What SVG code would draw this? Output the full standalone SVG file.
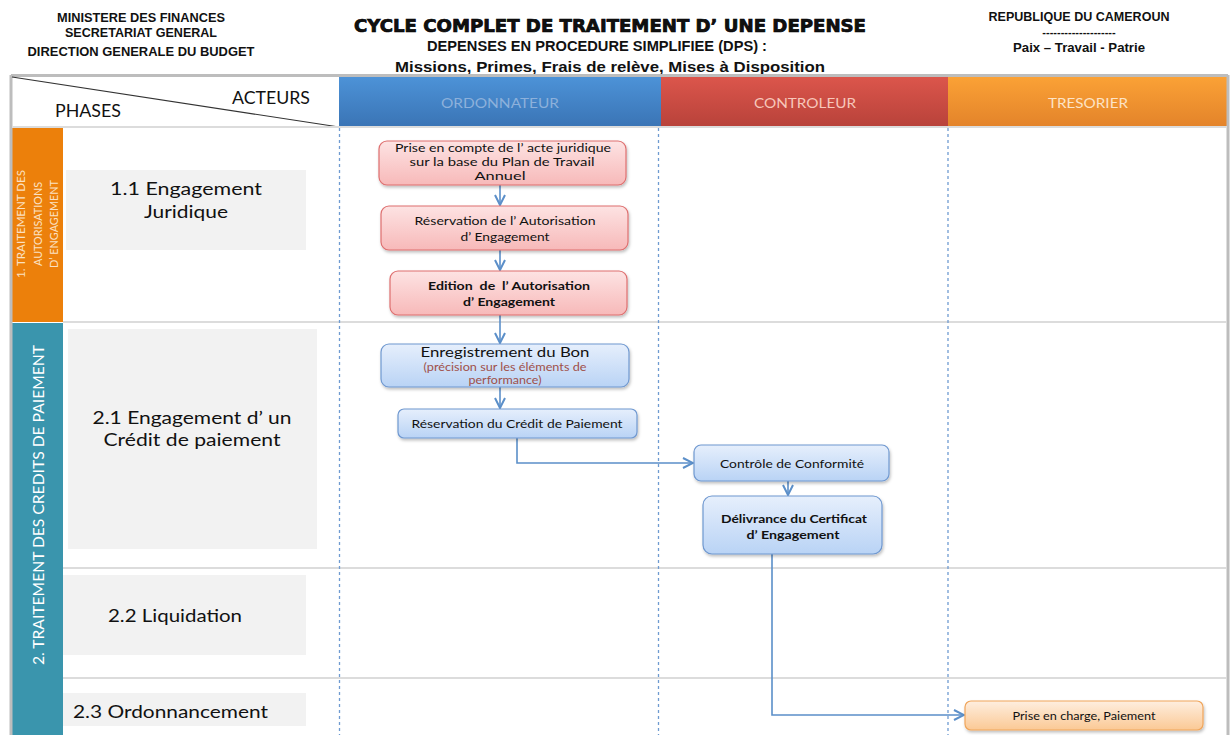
<svg xmlns="http://www.w3.org/2000/svg" width="1231" height="735" viewBox="0 0 1231 735">
<defs>
<style>
.hd{font-family:"Liberation Sans",Arial,sans-serif;font-weight:bold;fill:#111;text-anchor:middle}
.cal{font-family:Lato,"Open Sans","Liberation Sans",sans-serif}
.ph{font-family:Lato,"Open Sans","Liberation Sans",sans-serif;font-size:18px;fill:#111;text-anchor:middle}
.nt{font-family:Lato,"Open Sans","Liberation Sans",sans-serif;font-size:11.5px;fill:#111;text-anchor:middle}
.nb{font-family:Lato,"Open Sans","Liberation Sans",sans-serif;font-size:11.5px;font-weight:bold;fill:#111;text-anchor:middle}
.colh{font-family:Lato,"Open Sans","Liberation Sans",sans-serif;font-size:14px;text-anchor:middle}
.pbox{fill:#f2f2f2}
.sep{stroke:#dcdcdc;stroke-width:2}
.dash{stroke:#6f9bd1;stroke-width:1.3;stroke-dasharray:3,3}
.pink{fill:url(#gPink);stroke:#de6f6f;stroke-width:1.2;filter:url(#sh)}
.blue{fill:url(#gBlue);stroke:#6f98d0;stroke-width:1.2;filter:url(#sh)}
.orng{fill:url(#gOr);stroke:#f0a55a;stroke-width:1.2;filter:url(#sh)}
.con{fill:none;stroke:#5b8fc9;stroke-width:1.6;marker-end:url(#arr)}
</style>
<linearGradient id="gPink" x1="0" y1="0" x2="0" y2="1"><stop offset="0" stop-color="#fde3e3"/><stop offset="1" stop-color="#f7b9b9"/></linearGradient>
<linearGradient id="gBlue" x1="0" y1="0" x2="0" y2="1"><stop offset="0" stop-color="#e6effc"/><stop offset="1" stop-color="#b9d3f5"/></linearGradient>
<linearGradient id="gOr" x1="0" y1="0" x2="0" y2="1"><stop offset="0" stop-color="#feeedf"/><stop offset="1" stop-color="#fbc995"/></linearGradient>
<linearGradient id="hBlue" x1="0" y1="0" x2="0" y2="1"><stop offset="0" stop-color="#4d93d8"/><stop offset="1" stop-color="#3a74b5"/></linearGradient>
<linearGradient id="hRed" x1="0" y1="0" x2="0" y2="1"><stop offset="0" stop-color="#dc564c"/><stop offset="1" stop-color="#b8423a"/></linearGradient>
<linearGradient id="hOr" x1="0" y1="0" x2="0" y2="1"><stop offset="0" stop-color="#fba236"/><stop offset="1" stop-color="#e3832a"/></linearGradient>
<filter id="sh" x="-10%" y="-20%" width="120%" height="150%"><feDropShadow dx="1" dy="2" stdDeviation="1.5" flood-color="#000" flood-opacity="0.25"/></filter>
<marker id="arr" viewBox="0 0 12 12" refX="11" refY="6" markerWidth="12" markerHeight="12" markerUnits="userSpaceOnUse" orient="auto">
<path d="M1,1 L11,6 L1,11" fill="none" stroke="#5b8fc9" stroke-width="2"/>
</marker>
</defs>
<rect width="1231" height="735" fill="#ffffff"/>

<g id="header">
<text class="hd" x="141" y="22" font-size="12.5" textLength="168" lengthAdjust="spacingAndGlyphs">MINISTERE DES FINANCES</text>
<text class="hd" x="141" y="37" font-size="12.5" textLength="152" lengthAdjust="spacingAndGlyphs">SECRETARIAT GENERAL</text>
<text class="hd" x="141" y="56" font-size="12.5" textLength="227" lengthAdjust="spacingAndGlyphs">DIRECTION GENERALE DU BUDGET</text>
<text class="hd" x="610" y="32" font-size="17" textLength="512" lengthAdjust="spacingAndGlyphs" stroke="#000" stroke-width="0.7" style="font-family:'DejaVu Sans','Liberation Sans',sans-serif;font-weight:bold">CYCLE COMPLET DE TRAITEMENT D’ UNE DEPENSE</text>
<text class="hd" x="597" y="51" font-size="14.5" textLength="340" lengthAdjust="spacingAndGlyphs">DEPENSES EN PROCEDURE SIMPLIFIEE (DPS) :</text>
<text class="hd" x="610" y="72" font-size="15" textLength="430" lengthAdjust="spacingAndGlyphs">Missions, Primes, Frais de relève, Mises à Disposition</text>
<text class="hd" x="1079" y="21" font-size="12.5" textLength="181" lengthAdjust="spacingAndGlyphs">REPUBLIQUE DU CAMEROUN</text>
<text class="hd" x="1079" y="36" font-size="11">--------------------</text>
<text class="hd" x="1079" y="52" font-size="12.5" textLength="132" lengthAdjust="spacingAndGlyphs">Paix – Travail - Patrie</text>
</g>

<g id="frame">
<rect x="339" y="76" width="322" height="51" fill="url(#hBlue)"/>
<rect x="661" y="76" width="287" height="51" fill="url(#hRed)"/>
<rect x="948" y="76" width="280" height="51" fill="url(#hOr)"/>
<rect x="12" y="127" width="51" height="195" fill="#ec800b"/>
<rect x="12" y="323" width="51" height="412" fill="#3a95ad"/>
<line x1="11" y1="75.5" x2="1228" y2="75.5" stroke="#bdbdbd" stroke-width="3"/>
<line x1="11" y1="75" x2="11" y2="735" stroke="#bdbdbd" stroke-width="3"/>
<line x1="1228" y1="75" x2="1228" y2="735" stroke="#bdbdbd" stroke-width="3"/>
<line x1="12" y1="77" x2="339" y2="127" stroke="#333" stroke-width="1.2"/>
<line class="sep" x1="12" y1="127" x2="1227" y2="127"/>
<line class="sep" x1="63" y1="322" x2="1227" y2="322"/>
<line class="sep" x1="63" y1="568" x2="1227" y2="568"/>
<line class="sep" x1="63" y1="678" x2="1227" y2="678"/>
<line class="dash" x1="339.5" y1="128" x2="339.5" y2="735"/>
<line class="dash" x1="658.5" y1="128" x2="658.5" y2="735"/>
<line class="dash" x1="948" y1="128" x2="948" y2="735"/>
<text class="cal" x="271" y="104" font-size="17" text-anchor="middle" fill="#111" textLength="78" lengthAdjust="spacingAndGlyphs">ACTEURS</text>
<text class="cal" x="88" y="117" font-size="17" text-anchor="middle" fill="#111" textLength="66" lengthAdjust="spacingAndGlyphs">PHASES</text>
<text class="colh" x="500" y="108" fill="#8db1db" textLength="118" lengthAdjust="spacingAndGlyphs">ORDONNATEUR</text>
<text class="colh" x="805" y="108" fill="#f7c7bb" textLength="102" lengthAdjust="spacingAndGlyphs">CONTROLEUR</text>
<text class="colh" x="1088" y="108" fill="#fde3c6" textLength="80" lengthAdjust="spacingAndGlyphs">TRESORIER</text>
</g>

<g id="phase1">
<g transform="translate(0,224) rotate(-90)">
<text class="cal" x="0" y="25" font-size="11" text-anchor="middle" fill="#fbe0c2" textLength="108" lengthAdjust="spacingAndGlyphs">1.  TRAITEMENT DES</text>
<text class="cal" x="0" y="42" font-size="11" text-anchor="middle" fill="#fbe0c2" textLength="84" lengthAdjust="spacingAndGlyphs">AUTORISATIONS</text>
<text class="cal" x="0" y="58" font-size="11" text-anchor="middle" fill="#fbe0c2" textLength="88" lengthAdjust="spacingAndGlyphs">D’ ENGAGEMENT</text>
</g>
</g>
<g id="phase2">
<text class="cal" transform="translate(44,505) rotate(-90)" x="0" y="0" font-size="16" text-anchor="middle" fill="#ffffff" textLength="320" lengthAdjust="spacingAndGlyphs">2. TRAITEMENT DES CREDITS  DE PAIEMENT</text>
</g>

<g id="phase-1-1">
<rect class="pbox" x="66" y="170" width="240" height="80"/>
<text class="ph" x="186" y="195" textLength="152" lengthAdjust="spacingAndGlyphs">1.1  Engagement</text>
<text class="ph" x="186" y="218" textLength="84" lengthAdjust="spacingAndGlyphs">Juridique</text>
</g>
<g id="phase-2-1">
<rect class="pbox" x="68" y="329" width="249" height="220"/>
<text class="ph" x="192" y="424" textLength="199" lengthAdjust="spacingAndGlyphs">2.1 Engagement d’ un</text>
<text class="ph" x="192" y="446" textLength="177" lengthAdjust="spacingAndGlyphs">Crédit de paiement</text>
</g>
<g id="phase-2-2">
<rect class="pbox" x="63" y="575" width="243" height="80"/>
<text class="ph" x="175" y="622" textLength="134" lengthAdjust="spacingAndGlyphs">2.2 Liquidation</text>
</g>
<g id="phase-2-3">
<rect class="pbox" x="63" y="693" width="243" height="33"/>
<text class="ph" x="170.5" y="718" textLength="195" lengthAdjust="spacingAndGlyphs">2.3 Ordonnancement</text>
</g>

<g id="connectors">
<path class="con" d="M500,185 L500,205"/>
<path class="con" d="M500,250 L500,270"/>
<path class="con" d="M500,315 L500,343"/>
<path class="con" d="M500,387 L500,408"/>
<path class="con" d="M517,438 L517,463 L693,463"/>
<path class="con" d="M788,481 L788,495"/>
<path class="con" d="M772,554 L772,715 L964,715"/>
</g>

<g id="n1">
<rect class="pink" x="379" y="141" width="247" height="44" rx="8"/>
<text class="nt" x="503" y="152" textLength="216" lengthAdjust="spacingAndGlyphs">Prise en compte de l’ acte juridique</text>
<text class="nt" x="502" y="166" textLength="185" lengthAdjust="spacingAndGlyphs">sur la base du Plan de Travail</text>
<text class="nt" x="500" y="180" textLength="51" lengthAdjust="spacingAndGlyphs">Annuel</text>
</g>
<g id="n2">
<rect class="pink" x="381" y="206" width="247" height="44" rx="8"/>
<text class="nt" x="505" y="225" textLength="181" lengthAdjust="spacingAndGlyphs">Réservation de l’ Autorisation</text>
<text class="nt" x="505" y="241" textLength="89" lengthAdjust="spacingAndGlyphs">d’ Engagement</text>
</g>
<g id="n3">
<rect class="pink" x="390" y="271" width="237" height="44" rx="8"/>
<text class="nb" x="509" y="290" textLength="162" lengthAdjust="spacingAndGlyphs" style="white-space:pre">Edition  de  l’ Autorisation</text>
<text class="nb" x="509" y="306" textLength="92" lengthAdjust="spacingAndGlyphs">d’ Engagement</text>
</g>
<g id="n4">
<rect class="blue" x="381" y="344" width="248" height="43" rx="8"/>
<text class="cal" x="505" y="357" font-size="14" text-anchor="middle" fill="#111" textLength="169" lengthAdjust="spacingAndGlyphs">Enregistrement du Bon</text>
<text class="cal" x="505" y="371" font-size="10.5" text-anchor="middle" fill="#a0504a" textLength="163" lengthAdjust="spacingAndGlyphs">(précision sur les éléments de</text>
<text class="cal" x="505" y="384" font-size="10.5" text-anchor="middle" fill="#a0504a" textLength="73" lengthAdjust="spacingAndGlyphs">performance)</text>
</g>
<g id="n5">
<rect class="blue" x="398" y="409" width="239" height="29" rx="6"/>
<text class="nt" x="517" y="428" textLength="211" lengthAdjust="spacingAndGlyphs">Réservation du Crédit de Paiement</text>
</g>
<g id="n6">
<rect class="blue" x="694" y="445" width="195" height="36" rx="7"/>
<text class="nt" x="792" y="468" textLength="144" lengthAdjust="spacingAndGlyphs">Contrôle de Conformité</text>
</g>
<g id="n7">
<rect class="blue" x="703" y="496" width="179" height="58" rx="9"/>
<text class="nb" x="794" y="523" textLength="146" lengthAdjust="spacingAndGlyphs">Délivrance du Certificat</text>
<text class="nb" x="793" y="539" textLength="93" lengthAdjust="spacingAndGlyphs">d’ Engagement</text>
</g>
<g id="n8">
<rect class="orng" x="965" y="701" width="238" height="29" rx="6"/>
<text class="nt" x="1084" y="720" textLength="143" lengthAdjust="spacingAndGlyphs">Prise en charge, Paiement</text>
</g>
</svg>
